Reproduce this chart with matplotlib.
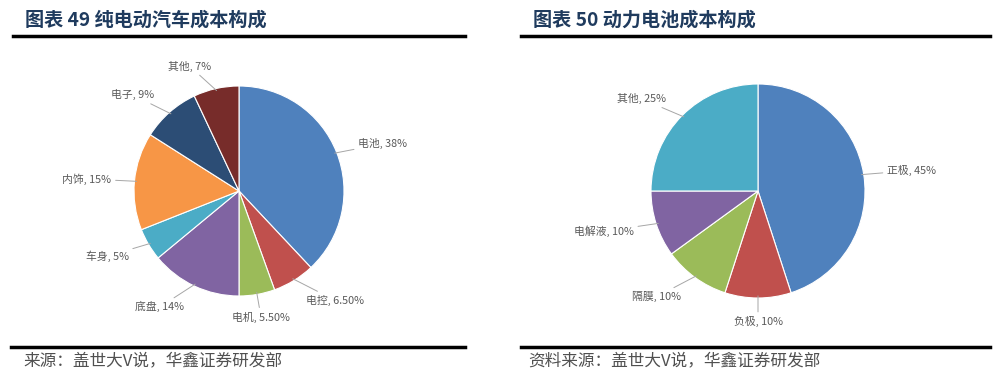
import numpy as np
import matplotlib.pyplot as plt
from matplotlib.lines import Line2D

plt.rcParams['font.family'] = ['Noto Sans CJK SC', 'DejaVu Sans']

# 纯电动汽车成本构成
car_parts = ["电池", "电控", "电机", "底盘", "车身", "内饰", "电子", "其他"]
car_values = [38, 6.5, 5.5, 14, 5, 15, 9, 7]
car_labels = ["38%", "6.50%", "5.50%", "14%", "5%", "15%", "9%", "7%"]
car_colors = ["#4F81BD", "#C0504D", "#9BBB59", "#8064A2", "#4BACC6",
              "#F79646", "#2C4D75", "#772C2A"]

# 动力电池成本构成
bat_parts = ["正极", "负极", "隔膜", "电解液", "其他"]
bat_values = [45, 10, 10, 10, 25]
bat_labels = ["45%", "10%", "10%", "10%", "25%"]
bat_colors = ["#4F81BD", "#C0504D", "#9BBB59", "#8064A2", "#4BACC6"]

W, H = 1000, 378
fig = plt.figure(figsize=(W / 100, H / 100), dpi=100)


def fx(px):
    return px / W


def fy(py):
    return 1 - py / H


def hline(x0, x1, y, lw=2.5):
    fig.add_artist(Line2D([fx(x0), fx(x1)], [fy(y), fy(y)], color="black",
                          lw=lw, transform=fig.transFigure))


def draw_pie(cx, cy, r, values, parts, pcts, colors):
    s = 1.5 * r
    ax = fig.add_axes([fx(cx - s), fy(cy + s), 2 * s / W, 2 * s / H])
    wedges, _ = ax.pie(values, colors=colors, startangle=90, counterclock=False,
                       radius=1, wedgeprops=dict(edgecolor="white", linewidth=0.8))
    ax.set_xlim(-1.5, 1.5)
    ax.set_ylim(-1.5, 1.5)
    ax.axis("off")
    for w, name, p in zip(wedges, parts, pcts):
        ang = np.deg2rad((w.theta1 + w.theta2) / 2)
        c, sn = np.cos(ang), np.sin(ang)
        if abs(c) < 0.2:
            ha = "center"
        elif c > 0:
            ha = "left"
        else:
            ha = "right"
        xt, yt = 1.22 * c, 1.22 * sn
        ax.annotate(f"{name}, {p}", xy=(0.98 * c, 0.98 * sn), xytext=(xt, yt),
                    ha=ha, va="center", fontsize=7.8, color="#595959",
                    arrowprops=dict(arrowstyle="-", color="#A6A6A6", lw=0.7,
                                    shrinkA=1, shrinkB=0))
    return ax


draw_pie(239, 191, 105, car_values, car_parts, car_labels, car_colors)
draw_pie(758, 191, 107, bat_values, bat_parts, bat_labels, bat_colors)

# 标题与分隔线
title_color = "#1F3B5E"
fig.text(fx(25), fy(20), "图表 49 纯电动汽车成本构成", fontsize=13.8,
         fontweight="bold", color=title_color, va="center", ha="left")
fig.text(fx(533), fy(20), "图表 50 动力电池成本构成", fontsize=13.8,
         fontweight="bold", color=title_color, va="center", ha="left")
hline(13, 465, 36)
hline(521, 990, 36)
hline(11, 465, 347)
hline(521, 990, 347)

fig.text(fx(23), fy(361), "来源：盖世大V说，华鑫证券研发部", fontsize=12,
         color="#505050", va="center", ha="left")
fig.text(fx(528), fy(361), "资料来源：盖世大V说，华鑫证券研发部", fontsize=12,
         color="#505050", va="center", ha="left")

fig.savefig("out.png", dpi=100)
